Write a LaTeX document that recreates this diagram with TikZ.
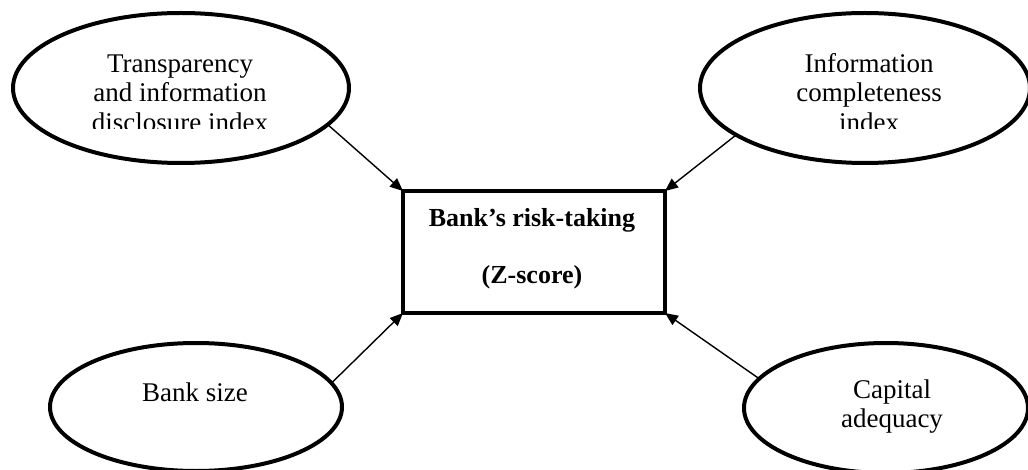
\documentclass[tikz,border=0pt]{standalone}
\usepackage{fontspec}
\setmainfont{Liberation Serif}
\usetikzlibrary{shapes.geometric,arrows.meta}
\begin{document}
\begin{tikzpicture}[x=1pt,y=-1pt,
  oval/.style={ellipse,draw,line width=4pt,inner sep=0pt,outer sep=0pt},
  lbl/.style={anchor=base,inner sep=0pt,font=\fontsize{27}{29}\selectfont},
  blbl/.style={anchor=base,inner sep=0pt,font=\fontsize{26}{29}\selectfont\bfseries},
  link/.style={line width=1.4pt,-{Triangle[length=13pt,width=11pt]}}]
\clip (0,0) rectangle (1028,470);
% ellipses
\node[oval,minimum width=336pt,minimum height=150pt] (tl) at (181,88) {};
\node[oval,minimum width=330pt,minimum height=150pt] (tr) at (865,88) {};
\node[oval,minimum width=292pt,minimum height=128pt] (bl) at (196,407) {};
\node[oval,minimum width=284pt,minimum height=130pt] (br) at (886,408) {};
% central box
\node[draw,line width=4pt,minimum width=262pt,minimum height=122pt,inner sep=0pt,outer sep=0pt] (box) at (534,252) {};
% labels
\node[lbl] (tla) at (180,73) {Transparency};
\node[lbl] (tlb) at (180,102) {and information};
\node[lbl] (tra) at (869,73) {Information};
\node[lbl] (trb) at (869,102) {completeness};
\begin{scope}
  \clip (0,0) rectangle (1028,129);
  \node[lbl] (tlc) at (180,132) {disclosure index};
  \node[lbl] (trc) at (869,132) {index};
\end{scope}
\node[lbl] (bla) at (195,401) {Bank size};
\node[lbl] (bra) at (892,398) {Capital};
\node[lbl] (brb) at (892,427) {adequacy};
\node[blbl] (boxa) at (532,227) {Bank’s risk-taking};
\node[blbl] (boxb) at (532,284) {(Z-score)};
% connectors
\draw[link] (tl.-14) -- (box.north west);
\draw[link] (tr.-160) -- (box.north east);
\draw[link] (bl.10) -- (box.south west);
\draw[link] (br.167) -- (box.south east);
\end{tikzpicture}
\end{document}
